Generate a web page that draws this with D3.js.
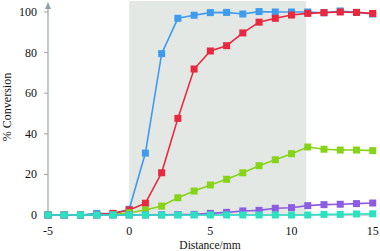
<!DOCTYPE html>
<meta charset="utf-8">
<style>
  body { margin: 0; background: #fff; }
  svg text { font-family: "Liberation Serif", "Liberation Sans", Arial, sans-serif; }
</style>
<svg width="380" height="251"></svg>
<script src="https://cdn.jsdelivr.net/npm/d3@7"></script>
<script>
const distance = [-5, -4, -3, -2, -1, 0, 1, 2, 3, 4, 5, 6, 7, 8, 9, 10, 11, 12, 13, 14, 15];

const blue   = [0, 0, 0, 0.8, 0.6, 2.8, 30.5, 79.5, 96.9, 98.4, 99.7, 99.8, 99, 100.2, 100, 100, 100, 99.6, 100.5, 99.8, 99];
const red    = [0, 0, 0, 0.2, 0.8, 2.5, 5.8, 20.8, 47.6, 71.9, 80.8, 83.4, 89.7, 95, 96.9, 98.5, 99.3, 99.7, 100, 99.8, 99.3];
const green  = [0, 0, 0, 0, 0.2, 1.1, 2.5, 4.4, 8.5, 11.8, 14.8, 17.6, 20.8, 24.3, 27.2, 30.2, 33.5, 32.4, 32, 32, 31.7];
const purple = [0, 0, 0, 0, 0, 0, 0, 0.1, 0.2, 0.3, 0.8, 1.3, 2, 2.3, 3.3, 3.6, 4.6, 5.1, 5.3, 5.6, 5.9];
const cyan   = [0, 0, 0, 0, 0, 0, 0, 0, 0, 0, 0, 0, 0, 0, 0, 0, 0, 0.3, 0.3, 0.5, 0.6];

const series = [
  { name: "blue", color: "#3d9bf0", values: blue },
  { name: "red", color: "#e8283e", values: red },
  { name: "green", color: "#86d418", values: green },
  { name: "purple", color: "#8c5ce4", values: purple },
  { name: "cyan", color: "#2ae2c2", values: cyan }
];

const shadeRange = [0, 10.9];
const xTicks = [-5, 0, 5, 10, 15];
const yTicks = [0, 20, 40, 60, 80, 100];

const svg = d3.select("svg");

const x = d3.scaleLinear().domain([-5, 15]).range([48, 372.7]);
const y = d3.scaleLinear().domain([0, 100]).range([215, 12]);

// shaded reaction zone
svg.append("rect")
  .attr("x", x(shadeRange[0]))
  .attr("y", 1)
  .attr("width", x(shadeRange[1]) - x(shadeRange[0]))
  .attr("height", y(0) - 1)
  .attr("fill", "#e4e8e5");

// x axis line
svg.append("line")
  .attr("x1", x(-5)).attr("x2", x(15))
  .attr("y1", y(0)).attr("y2", y(0))
  .attr("stroke", "#9aa6a8").attr("stroke-width", 1);

// y axis with arrow
svg.append("line")
  .attr("x1", x(-5)).attr("x2", x(-5))
  .attr("y1", y(0)).attr("y2", 4)
  .attr("stroke", "#9aa6a8").attr("stroke-width", 1.2);
svg.append("path")
  .attr("d", `M${x(-5) - 3},${9} L${x(-5)},${2} L${x(-5) + 3},${9} Z`)
  .attr("fill", "#8fa0a6");

const yAxis = svg.append("g");
yAxis.selectAll("line")
  .data(yTicks)
  .enter().append("line")
    .attr("x1", x(-5) - 4).attr("x2", x(-5))
    .attr("y1", d => y(d)).attr("y2", d => y(d))
    .attr("stroke", "#9aa6a8");
yAxis.selectAll("text")
  .data(yTicks)
  .enter().append("text")
    .attr("x", 37)
    .attr("y", d => y(d))
    .attr("dy", "0.34em")
    .attr("text-anchor", "end")
    .attr("font-size", 12)
    .attr("fill", "#111")
    .text(d => d);

svg.append("g").selectAll("text")
  .data(xTicks)
  .enter().append("text")
    .attr("x", d => x(d))
    .attr("y", 235)
    .attr("text-anchor", "middle")
    .attr("font-size", 12)
    .attr("fill", "#111")
    .text(d => d);

svg.append("text")
  .attr("x", 210)
  .attr("y", 249)
  .attr("text-anchor", "middle")
  .attr("font-size", 11.5)
  .attr("fill", "#111")
  .text("Distance/mm");

svg.append("text")
  .attr("transform", "translate(11,107) rotate(-90)")
  .attr("text-anchor", "middle")
  .attr("font-size", 12)
  .attr("fill", "#111")
  .text("% Conversion");

const line = d3.line()
  .x((d, i) => x(distance[i]))
  .y(d => y(d));

const groups = svg.selectAll("g.series")
  .data(series)
  .enter().append("g")
    .attr("class", "series");

groups.append("path")
  .attr("d", d => line(d.values))
  .attr("fill", "none")
  .attr("stroke", d => d.color)
  .attr("stroke-width", 1.6);

groups.each(function(s) {
  d3.select(this).selectAll("rect")
    .data(s.values)
    .enter().append("rect")
      .attr("x", (d, i) => x(distance[i]) - 3.5)
      .attr("y", d => y(d) - 3.5)
      .attr("width", 7)
      .attr("height", 7)
      .attr("fill", s.color);
});
</script>
